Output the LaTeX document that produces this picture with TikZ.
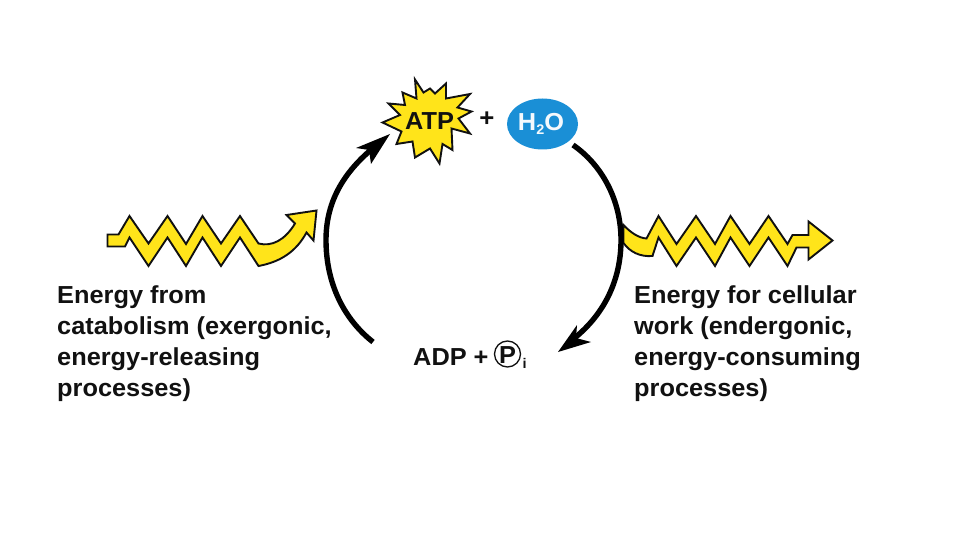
\documentclass[tikz,border=0pt]{standalone}
\usepackage{fontspec}
\setmainfont[FakeStretch=1.03]{Liberation Sans}
\usetikzlibrary{shapes.geometric}
\definecolor{zapyellow}{HTML}{FFE41A}
\definecolor{waterblue}{HTML}{1A8FD6}
\definecolor{inkblack}{HTML}{111111}
\tikzset{
  x=1pt,y=-1pt,
  zap/.style={draw=inkblack,fill=zapyellow,line width=1.9pt,line join=miter,miter limit=6},
  cyc/.style={draw=black,line width=5.4pt,line cap=butt},
  headtip/.style={fill=black,draw=none},
  captext/.style={font=\bfseries\fontsize{24.6}{31}\selectfont,align=left,anchor=north west,inner sep=0pt,text=inkblack},
  lab/.style={font=\bfseries\fontsize{24.6}{26}\selectfont,inner sep=0pt,text=inkblack},
}
\begin{document}
\begin{tikzpicture}
\useasboundingbox (0,0) rectangle (960,540);
\fill[white] (0,0) rectangle (960,540);

% left squiggle
\draw[zap] (107.5,234.5) -- (118.5,234.5) -- (129.5,216) -- (148.5,243.5) -- (167.5,216) -- (186,244) -- (202.5,216) -- (221,243.5) -- (240,216) -- (258.5,243.5)
  .. controls (272,247) and (285,240) .. (295,223.5) -- (286.5,215) -- (316.5,210.5) -- (313.5,240.5) -- (306.5,232.5)
  .. controls (296,252) and (280,262) .. (258.5,266) -- (240,237.5) -- (221,266) -- (202.5,237.5) -- (186,266) -- (167.5,237.5) -- (148.5,266) -- (129.5,237.5) -- (125,246.5) -- (107.5,246.5) -- cycle;

% right squiggle
\draw[zap] (623.5,225) .. controls (631,233) and (639,238) .. (646.5,238.5) -- (658.5,216) -- (676.5,244) -- (696,216) -- (715,244) -- (730.5,216) -- (749.5,244) -- (768.5,216) -- (787.5,244) -- (792.5,235) -- (808.5,235) -- (808.5,221.5) -- (832.5,240.5) -- (808.5,259.5) -- (808.5,247.5) -- (796.5,247.5) -- (787.5,266) -- (768.5,237.5) -- (749.5,266) -- (730.5,237.5) -- (715,266) -- (696,237.5) -- (676.5,266) -- (658.5,237.5) -- (652.5,256) .. controls (640,257) and (630,252) .. (623.5,243) -- cycle;

% cycle arrows
\coordinate (leftstart) at (373,342);
\coordinate (lefthead) at (378,144);
\coordinate (rightstart) at (573,145);
\coordinate (righthead) at (568,343);
\draw[cyc] (leftstart) .. controls (345,320) and (326,285) .. (326,240) .. controls (326,200) and (345,170) .. (lefthead);
\fill[headtip] (390,134) -- (356,148) -- (369,150) -- (371,164) -- cycle;
\draw[cyc] (rightstart) .. controls (602,165) and (621,200) .. (621,240) .. controls (621,285) and (600,320) .. (righthead);
\fill[headtip] (558,352) -- (591,342) -- (576,338) -- (577,325) -- cycle;

% star
\draw[zap] (415,79.5) -- (423.5,92.5) -- (430,88.5) -- (435,93.5) -- (446,83.5) -- (446,98.5) -- (470,94) -- (457.5,107.5) -- (471.5,111.5) -- (458.5,118.5) -- (470,133.5) -- (451.5,128.5) -- (452.5,150) -- (442.5,144) -- (439.5,163.5) -- (430,148.5) -- (415,157.5) -- (412.5,141.5) -- (396.5,144) -- (401.5,131.5) -- (382.5,122.5) -- (400,115) -- (388.5,103.5) -- (405,105) -- (402.5,92.5) -- (416.5,98.5) -- cycle;
\node[lab] (atp) at (429.5,121) {ATP};

\node[lab,font=\bfseries\fontsize{25}{26}\selectfont] (plus) at (487,119) {+};

\node[ellipse,fill=waterblue,minimum width=71pt,minimum height=51pt,inner sep=0pt] (water) at (542.5,124) {};
\node[lab,text=white!95!waterblue] (h2o) at (541,124) {H\raisebox{-0.3ex}{\fontsize{14}{14}\selectfont 2}O};

% ADP + Pi
\node[lab,anchor=base west] (adp) at (413,365) {ADP +};
\node[circle,draw=inkblack,line width=1.3pt,minimum size=26pt,inner sep=0pt] (pcircle) at (507.5,354) {};
\node[lab] (pletter) at (507.5,355) {P};
\node[lab,anchor=base,font=\bfseries\fontsize{14}{14}\selectfont] (isub) at (524.5,368) {i};

% captions
\node[captext] (capleft) at (57,285) {Energy from\\catabolism (exergonic,\\energy-releasing\\processes)};
\node[captext] (capright) at (634,285) {Energy for cellular\\work (endergonic,\\energy-consuming\\processes)};
\end{tikzpicture}
\end{document}
